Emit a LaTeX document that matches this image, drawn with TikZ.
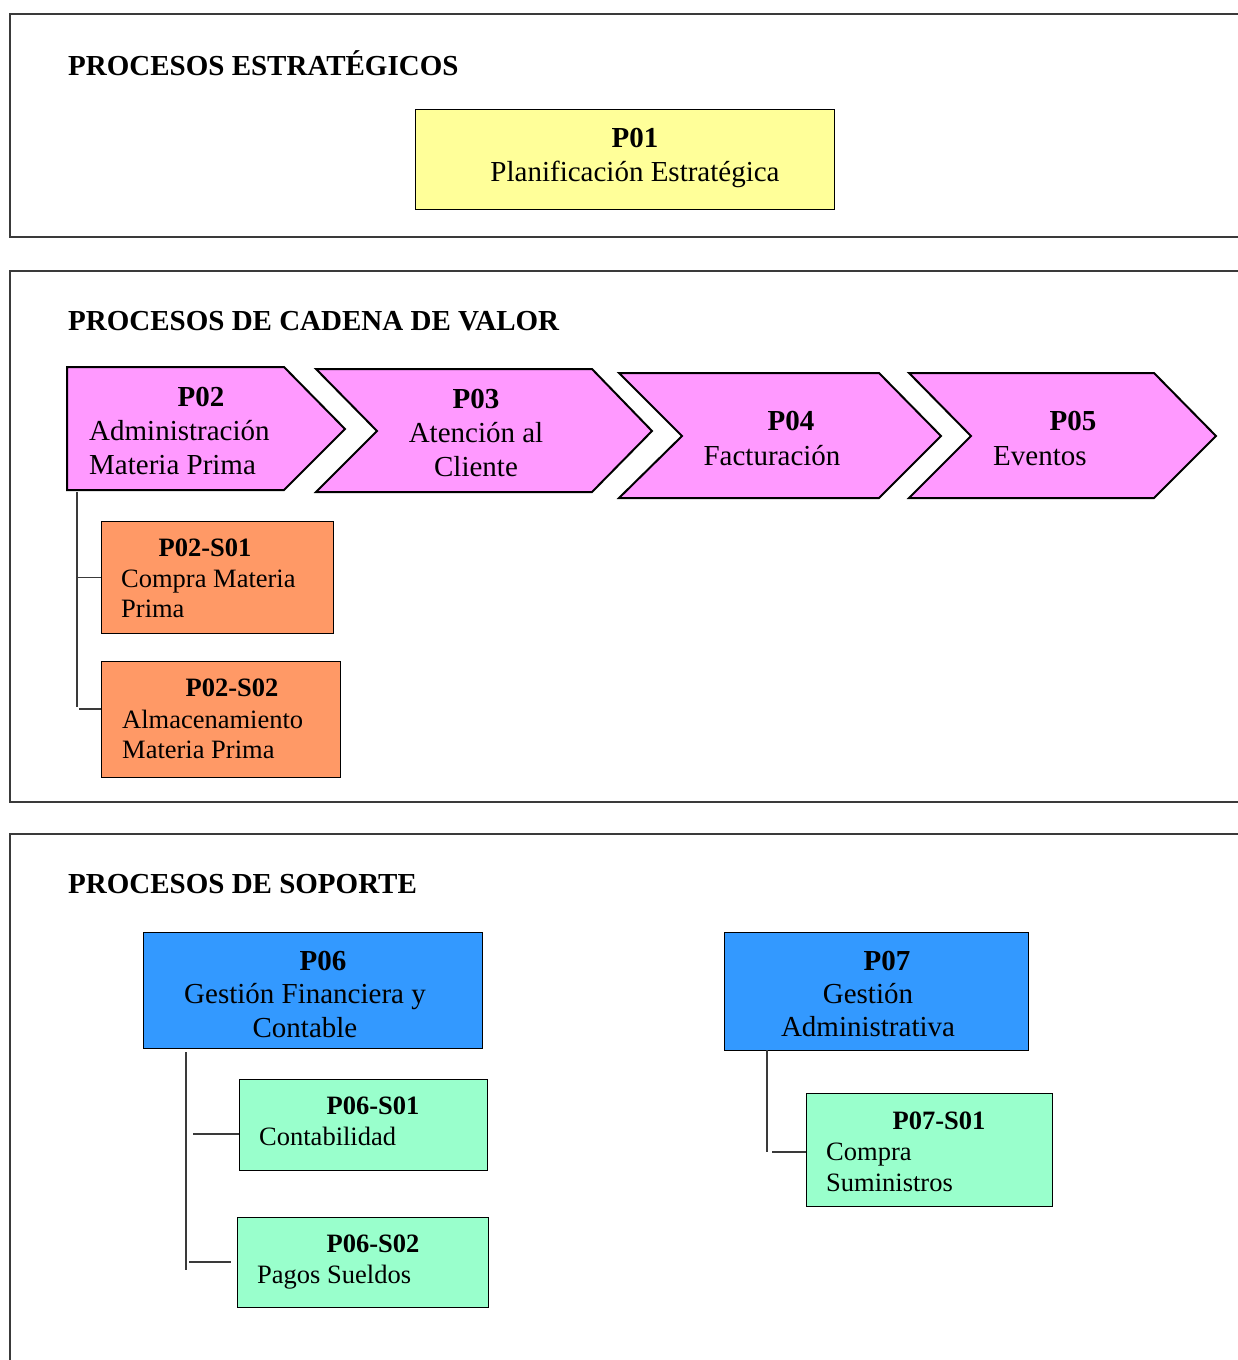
\documentclass[tikz,border=0pt]{standalone}
\usepackage{fontspec}
\setmainfont{Liberation Serif}
\usetikzlibrary{calc}
\definecolor{stratfill}{HTML}{FFFF99}
\definecolor{chainfill}{HTML}{FF99FF}
\definecolor{subfill}{HTML}{FF9966}
\definecolor{supfill}{HTML}{3399FF}
\definecolor{supsubfill}{HTML}{99FFCC}
\definecolor{framecol}{HTML}{3A3A3A}
\tikzset{
  frame/.style={draw=framecol, line width=1.3pt},
  box/.style={draw=black, line width=1.2pt, anchor=north west, inner sep=0pt},
  chev/.style={draw=black, line width=2pt, line join=miter, fill=chainfill},
  conn/.style={draw=framecol, line width=1.2pt},
  title/.style={inner sep=0pt, anchor=base west, font=\fontsize{29}{34}\selectfont\bfseries},
  hd/.style={inner sep=0pt, anchor=base, font=\fontsize{29}{34}\selectfont\bfseries},
  tx/.style={inner sep=0pt, anchor=base, font=\fontsize{29}{34}\selectfont},
  txl/.style={inner sep=0pt, anchor=base west, font=\fontsize{29}{34}\selectfont},
  shd/.style={inner sep=0pt, anchor=base, font=\fontsize{26.5}{30}\selectfont\bfseries},
  stxl/.style={inner sep=0pt, anchor=base west, font=\fontsize{26.5}{30}\selectfont},
}
\begin{document}
\begin{tikzpicture}[x=1pt, y=-1pt]
\useasboundingbox (0,0) rectangle (1238,1360);
\fill[white] (0,0) rectangle (1238,1360);

% section frames (open to the right)
\draw[frame] (1238,14) -- (10,14) -- (10,237) -- (1238,237);
\draw[frame] (1238,271) -- (10,271) -- (10,802) -- (1238,802);
\draw[frame] (1238,834) -- (10,834) -- (10,1360);

% section titles
\node[title] (t1) at (68,75) {PROCESOS ESTRATÉGICOS};
\node[title] (t2) at (68,330) {PROCESOS DE CADENA DE VALOR};
\node[title] (t3) at (68,893) {PROCESOS DE SOPORTE};

% strategic process
\node[box, fill=stratfill, minimum width=419pt, minimum height=100pt] (p01) at (415,109) {};
\node[hd] (p01a) at (635,147) {P01};
\node[tx] (p01b) at (635,181) {Planificación Estratégica};

% value chain
\draw[chev] (67,367) -- (284,367) -- (345,429) -- (284,490) -- (67,490) -- cycle;
\draw[chev] (316,369) -- (592,369) -- (652,431) -- (592,492) -- (316,492) -- (377,431) -- cycle;
\draw[chev] (619,373) -- (879,373) -- (941,436) -- (879,498) -- (619,498) -- (682,436) -- cycle;
\draw[chev] (909,373) -- (1154,373) -- (1216,436) -- (1154,498) -- (909,498) -- (971,436) -- cycle;

\node[hd] (p02a) at (201,406) {P02};
\node[txl] (p02b) at (89,440) {Administración};
\node[txl] (p02c) at (89,474) {Materia Prima};
\node[hd] (p03a) at (476,408) {P03};
\node[tx] (p03b) at (476,442) {Atención al};
\node[tx] (p03c) at (476,476) {Cliente};
\node[hd] (p04a) at (791,430) {P04};
\node[tx] (p04b) at (772,465) {Facturación};
\node[hd] (p05a) at (1073,430) {P05};
\node[txl] (p05b) at (993,465) {Eventos};

% value chain sub-processes
\node[box, fill=subfill, minimum width=232pt, minimum height=112pt] (s21) at (101,521) {};
\node[shd] (s21a) at (205,556) {P02-S01};
\node[stxl] (s21b) at (121,587) {Compra Materia};
\node[stxl] (s21c) at (121,617) {Prima};
\node[box, fill=subfill, minimum width=239pt, minimum height=116pt] (s22) at (101,661) {};
\node[shd] (s22a) at (232,696) {P02-S02};
\node[stxl] (s22b) at (122,728) {Almacenamiento};
\node[stxl] (s22c) at (122,758) {Materia Prima};

\coordinate (k2top) at (77,492);
\coordinate (k2bot) at (77,707);
\draw[conn] (k2top) -- (k2bot);
\draw[conn] (k2top |- s21.west) -- (s21.west);
\draw[conn] (79,709) -- (s22.west |- 0,709);

% support processes
\node[box, fill=supfill, minimum width=339pt, minimum height=116pt] (p06) at (143,932) {};
\node[hd] (p06a) at (323,970) {P06};
\node[tx] (p06b) at (305,1003) {Gestión Financiera y};
\node[tx] (p06c) at (305,1037) {Contable};

\node[box, fill=supsubfill, minimum width=248pt, minimum height=91pt] (s61) at (239,1079) {};
\node[shd] (s61a) at (373,1114) {P06-S01};
\node[stxl] (s61b) at (259,1145) {Contabilidad};
\node[box, fill=supsubfill, minimum width=251pt, minimum height=90pt] (s62) at (237,1217) {};
\node[shd] (s62a) at (373,1252) {P06-S02};
\node[stxl] (s62b) at (257,1283) {Pagos Sueldos};

\coordinate (k6top) at (186,1052);
\coordinate (k6bot) at (186,1270);
\draw[conn] (k6top) -- (k6bot);
\draw[conn] (193,1134) -- (s61.west |- 0,1134);
\draw[conn] (189,1262) -- (231,1262);

\node[box, fill=supfill, minimum width=304pt, minimum height=118pt] (p07) at (724,932) {};
\node[hd] (p07a) at (887,970) {P07};
\node[tx] (p07b) at (868,1003) {Gestión};
\node[tx] (p07c) at (868,1036) {Administrativa};

\node[box, fill=supsubfill, minimum width=246pt, minimum height=113pt] (s71) at (806,1093) {};
\node[shd] (s71a) at (939,1129) {P07-S01};
\node[stxl] (s71b) at (826,1160) {Compra};
\node[stxl] (s71c) at (826,1191) {Suministros};

\coordinate (k7top) at (767,1050);
\coordinate (k7bot) at (767,1152);
\draw[conn] (k7top) -- (k7bot);
\draw[conn] (772,1152) -- (s71.west |- 0,1152);
\end{tikzpicture}
\end{document}
